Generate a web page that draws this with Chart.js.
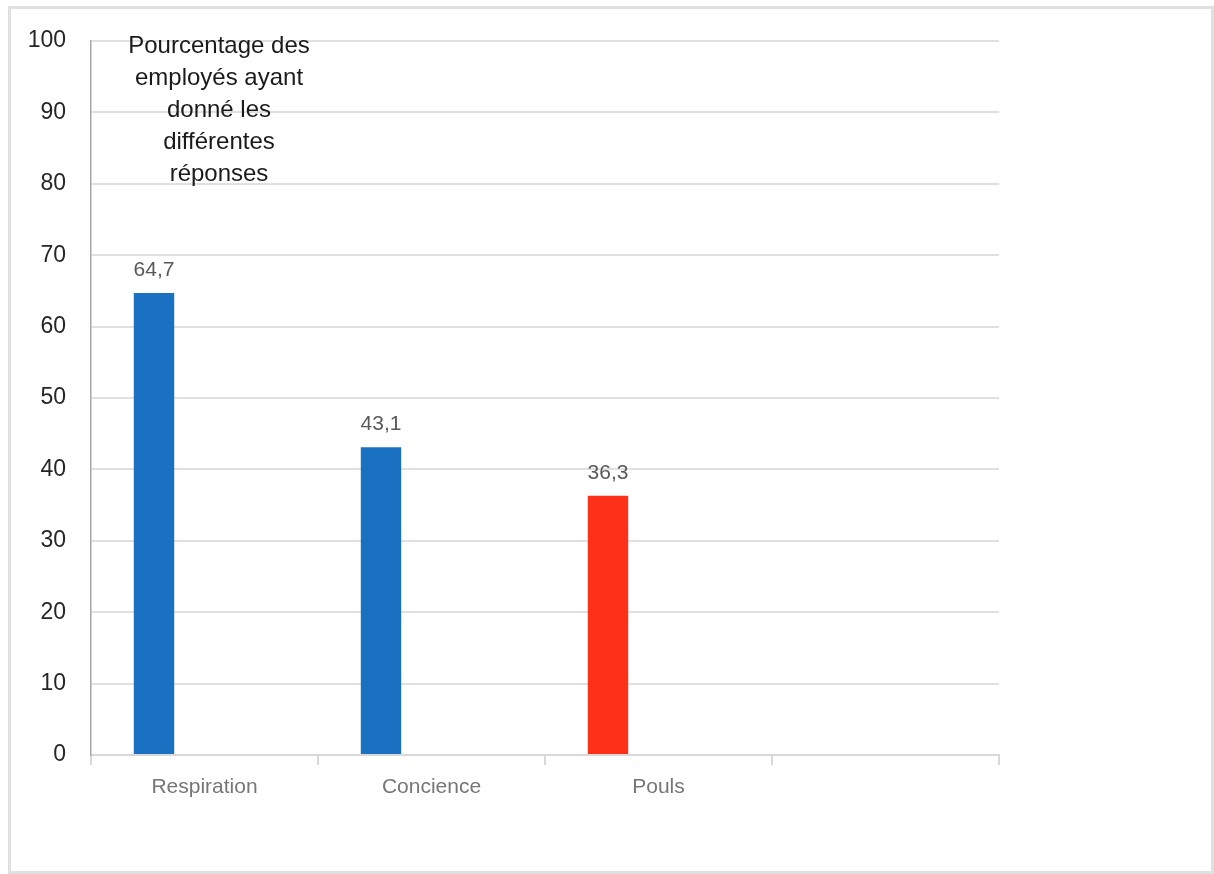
<!DOCTYPE html>
<html>
<head>
<meta charset="utf-8">
<script src="https://cdn.jsdelivr.net/npm/chart.js@4"></script>
<style>
  body { margin: 0; background: #fff; }
  .wrap { position: relative; width: 1214px; height: 874px; }
  .frame { position: absolute; left: 8px; top: 6px; width: 1206px; height: 868px;
           border: 3px solid #e0e0e0; box-sizing: border-box; pointer-events: none; }
  canvas { position: absolute; left: 0; top: 0; }
</style>
</head>
<body>
<div class="wrap">
  <canvas id="reponsesChart" width="1214" height="874"></canvas>
  <div class="frame"></div>
</div>
<script>
const categories = ["Respiration", "Concience", "Pouls", ""];
const pourcentages = [64.7, 43.1, 36.3, null];
const serieVide = [null, null, null, null];
const couleurs = ["#1b71c1", "#1b71c1", "#ff301a", "#1b71c1"];
const titreLignes = ["Pourcentage des", "employés ayant", "donné les", "différentes", "réponses"];

const police = "'Liberation Sans', Arial, sans-serif";

// etiquettes de valeur au-dessus des barres
const etiquettes = {
	id: "etiquettes",
	afterDatasetsDraw(chart) {
		const ctx = chart.ctx;
		const meta = chart.getDatasetMeta(0);
		ctx.save();
		ctx.font = "21px " + police;
		ctx.fillStyle = "#595959";
		ctx.textAlign = "center";
		ctx.textBaseline = "middle";
		meta.data.forEach((bar, i) => {
			const v = pourcentages[i];
			if (v == null) return;
			ctx.fillText(String(v).replace(".", ","), bar.x, bar.y - 23);
		});
		ctx.restore();
	}
};

// titre dans la zone du graphique
const titre = {
	id: "titre",
	afterDraw(chart) {
		const ctx = chart.ctx;
		ctx.save();
		ctx.font = "24px " + police;
		ctx.fillStyle = "#1a1a1a";
		ctx.textAlign = "center";
		ctx.textBaseline = "middle";
		titreLignes.forEach((ligne, i) => {
			ctx.fillText(ligne, 219, 46 + i * 32);
		});
		ctx.restore();
	}
};

var config = {
	type: "bar",
	data: {
		labels: categories,
		datasets: [
			{
				label: "Pourcentage des employés ayant donné les différentes réponses",
				data: pourcentages,
				backgroundColor: couleurs,
				barPercentage: 0.4,
				categoryPercentage: 0.89
			},
			{
				label: "",
				data: serieVide,
				backgroundColor: "#1b71c1",
				barPercentage: 0.4,
				categoryPercentage: 0.89
			}
		]
	},
	options: {
		responsive: false,
		animation: false,
		layout: { padding: { left: 11, right: 215, top: 41, bottom: 59 } },
		plugins: {
			legend: { display: false },
			tooltip: { enabled: false }
		},
		scales: {
			x: {
				grid: { drawOnChartArea: false, tickLength: 10, color: "#d9d9d9", lineWidth: 2 },
				border: { color: "#d9d9d9", width: 2 },
				ticks: { font: { family: police, size: 21 }, color: "#767676", padding: 10 },
				afterFit(scale) { scale.height = 60; }
			},
			y: {
				min: 0,
				max: 100,
				ticks: { stepSize: 10, font: { family: police, size: 23 }, color: "#262626", padding: 25 },
				grid: { drawTicks: false, color: "#e0e0e0", lineWidth: 2 },
				border: { color: "#a6a6a6", width: 1.5 },
				afterFit(scale) { scale.width = 80; }
			}
		}
	},
	plugins: [etiquettes, titre]
};

var reponsesChart = new Chart(document.getElementById("reponsesChart"), config);
</script>
</body>
</html>
